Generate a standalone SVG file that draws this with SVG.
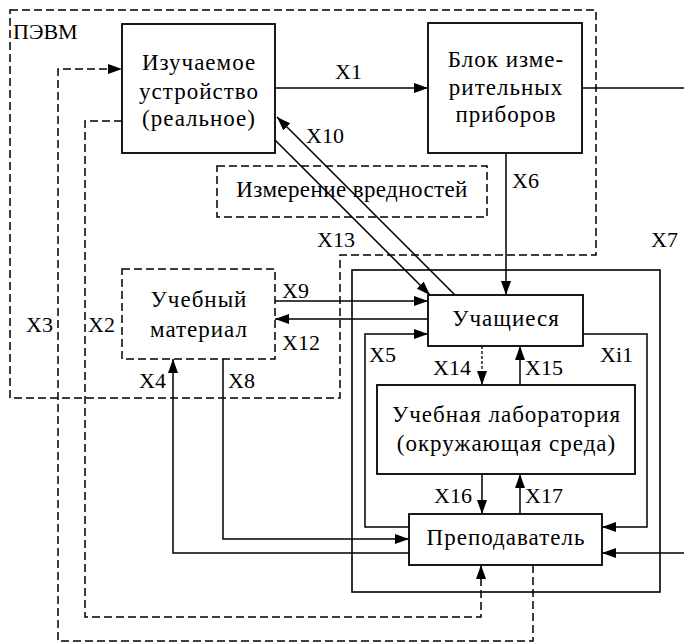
<svg xmlns="http://www.w3.org/2000/svg" width="684" height="643" viewBox="0 0 684 643">
<style>
.box{fill:#fff;stroke:#000;stroke-width:1.8}
.dbox{fill:none;stroke:#000;stroke-width:1.5;stroke-dasharray:8 4}
.ln{fill:none;stroke:#000;stroke-width:1.5}
.dl{fill:none;stroke:#000;stroke-width:1.5;stroke-dasharray:8 4}
.dt{fill:none;stroke:#000;stroke-width:1.3;stroke-dasharray:3 2}
text{font-family:"Liberation Serif","Times New Roman",serif;font-size:22px;fill:#000}
.c{text-anchor:middle;font-size:23px;letter-spacing:1px}
.h{text-anchor:middle;font-size:23px;letter-spacing:0.4px}
</style>
<defs>
<marker id="a" markerUnits="userSpaceOnUse" markerWidth="14" markerHeight="10" refX="14" refY="5" orient="auto">
<path d="M0,0 L14,5 L0,10 z" fill="#000"/>
</marker>
</defs>
<g id="pevm">
<path class="dbox" d="M10,10 H596 V255 H340 V398 H10 Z"/>
<text x="13" y="39">ПЭВМ</text>
</g>
<g id="x7box">
<rect class="ln" x="352" y="270" width="308" height="322" style="stroke-width:1.6"/>
</g>
<g id="connectors">
<path class="ln" d="M275,88 H428" marker-end="url(#a)"/>
<path class="ln" d="M582,88 H684"/>
<path class="ln" d="M506,153 V295" marker-end="url(#a)"/>
<path class="ln" d="M455,295 L277,117" marker-end="url(#a)"/>
<path class="ln" d="M275,140 L430,295" marker-end="url(#a)"/>
<path class="ln" d="M275,301 H428" marker-end="url(#a)"/>
<path class="ln" d="M428,319 H275" marker-end="url(#a)"/>
<path class="ln" d="M409,527 H365 V334 H428" marker-end="url(#a)"/>
<path class="ln" d="M583,334 H647 V527 H602" marker-end="url(#a)"/>
<path class="dt" d="M482,346 V385" marker-end="url(#a)"/>
<path class="ln" d="M520,385 V346" marker-end="url(#a)"/>
<path class="ln" d="M482,474 V514" marker-end="url(#a)"/>
<path class="ln" d="M520,514 V474" marker-end="url(#a)"/>
<path class="ln" d="M223,359 V539 H409" marker-end="url(#a)"/>
<path class="ln" d="M409,553 H173 V359" marker-end="url(#a)"/>
<path class="ln" d="M684,553 H602" marker-end="url(#a)"/>
<path class="dl" d="M122,121 H85 V617 H481 V565" marker-end="url(#a)"/>
<path class="dl" d="M533,565 V641 H58 V69 H122" marker-end="url(#a)"/>
<text x="335" y="79">X1</text>
<text x="306" y="143">X10</text>
<text x="317" y="247">X13</text>
<text x="512" y="188">X6</text>
<text x="651" y="247">X7</text>
<text x="282" y="298">X9</text>
<text x="282" y="350">X12</text>
<text x="26" y="332">X3</text>
<text x="88" y="332">X2</text>
<text x="139" y="388">X4</text>
<text x="228" y="388">X8</text>
<text x="369" y="362">X5</text>
<text x="600" y="362">Xi1</text>
<text x="433" y="375">X14</text>
<text x="525" y="375">X15</text>
<text x="434" y="503">X16</text>
<text x="525" y="503">X17</text>
</g>
<g id="device">
<rect class="box" x="122" y="24" width="153" height="129"/>
<text class="c" x="199" y="70">Изучаемое</text>
<text class="c" x="199" y="99">устройство</text>
<text class="c" x="199" y="126">(реальное)</text>
</g>
<g id="instruments">
<rect class="box" x="428" y="23" width="154" height="130"/>
<text class="c" x="506" y="67">Блок изме-</text>
<text class="c" x="506" y="95">рительных</text>
<text class="c" x="506" y="122">приборов</text>
</g>
<g id="harm">
<rect class="dbox" x="217" y="166" width="270" height="51"/>
<text class="h" x="352" y="197">Измерение вредностей</text>
</g>
<g id="material">
<rect class="dbox" x="122" y="269" width="153" height="90" style="fill:#fff"/>
<text class="c" x="199" y="307">Учебный</text>
<text class="c" x="199" y="337">материал</text>
</g>
<g id="students">
<rect class="box" x="428" y="295" width="155" height="51"/>
<text class="c" x="506" y="326">Учащиеся</text>
</g>
<g id="lab">
<rect class="box" x="377" y="385" width="258" height="89"/>
<text class="c" x="506.5" y="422">Учебная лаборатория</text>
<text class="c" x="506.5" y="451">(окружающая среда)</text>
</g>
<g id="teacher">
<rect class="box" x="409" y="514" width="193" height="51"/>
<text class="c" x="506" y="545">Преподаватель</text>
</g>
</svg>
